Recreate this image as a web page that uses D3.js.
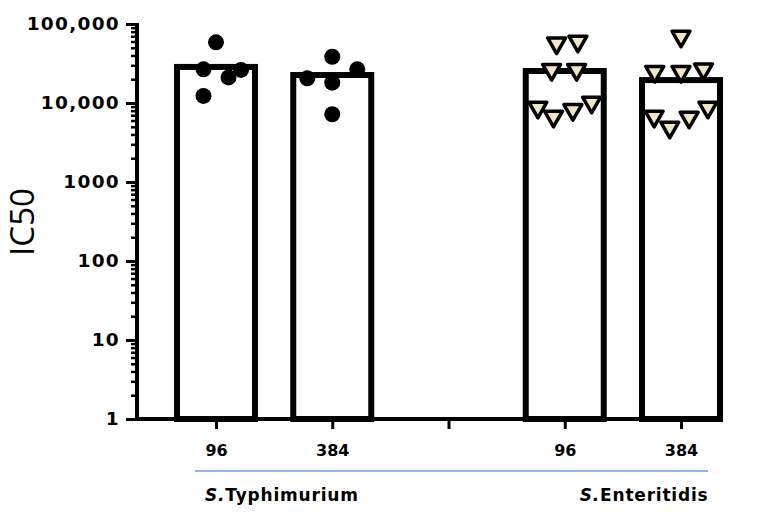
<!DOCTYPE html>
<html>
<head>
<meta charset="utf-8">
<script src="https://cdn.jsdelivr.net/npm/d3@7"></script>
<style>
  body { margin: 0; background: #fff; }
  svg { display: block; }
  .ylab { font-family: "DejaVu Sans", sans-serif; font-weight: bold; font-size: 18.5px; letter-spacing: 1.3px; }
  .xlab { font-family: "DejaVu Sans", sans-serif; font-weight: bold; font-size: 16px; }
  .grp { font-family: "DejaVu Sans", sans-serif; font-weight: bold; font-size: 17px; letter-spacing: 0.8px; }
</style>
</head>
<body>
<div id="chart"></div>
<script>
// categories along the x axis (index 2 is the empty gap tick)
const tickLabels = ["96", "384", "", "96", "384"];
const groupNames = ["Typhimurium", "Enteritidis"];

// bar heights (IC50, means)
const barValues = [28600, 22600, 25400, 19500];
const barSlots = [0, 1, 3, 4];

// individual replicates, jitter in half-symbol units
const typh96 = [58600, 26700, 21100, 26200, 12300];
const typh96Jit = [0, -1, 1, 2, -1];
const typh384 = [38500, 20500, 18100, 26700, 7200];
const typh384Jit = [0, -2, 0, 2, 0];
const ent96 = [53100, 55800, 24500, 24500, 8150, 6270, 7620, 9430];
const ent96Jit = [-0.65, 1.05, -1.05, 0.95, -2.15, -0.9, 0.65, 2.15];
const ent384 = [64600, 23100, 23100, 24900, 6270, 4550, 6090, 8150];
const ent384Jit = [0, -2.1, 0, 1.8, -2.15, -0.9, 0.65, 2.15];

const yTicks = [1, 10, 100, 1000, 10000, 100000];

const width = 776, height = 512;
const svg = d3.select('#chart').append('svg')
    .attr('width', width)
    .attr('height', height);

const xScale = d3.scaleLinear().domain([0, 4]).range([216, 681]);
const yScale = d3.scaleLog().domain([1, 100000]).range([419, 24]);
const jitStep = 12.5;
const barW = 78;

// bars
svg.append('g')
    .selectAll('rect')
    .data(barValues)
    .join('rect')
    .attr('x', (d, i) => xScale(barSlots[i]) - barW / 2)
    .attr('y', d => yScale(d))
    .attr('width', barW)
    .attr('height', d => yScale(1) - yScale(d))
    .attr('fill', '#fff')
    .attr('stroke', '#000')
    .attr('stroke-width', 6);

// y axis: minor ticks then major ticks
const minor = [];
for (let e = 0; e < 5; e++) {
    for (let m = 2; m <= 9; m++) minor.push(m * Math.pow(10, e));
}
const yAxisX = 137;
svg.append('g')
    .attr('transform', `translate(${yAxisX},0)`)
    .call(d3.axisLeft(yScale).tickValues(minor).tickSize(6).tickFormat(''))
    .call(g => g.select('.domain').remove())
    .call(g => g.selectAll('line').attr('stroke-width', 2.5));

const fmt = d => d >= 10000 ? d3.format(',')(d) : String(d);
svg.append('g')
    .attr('transform', `translate(${yAxisX},0)`)
    .call(d3.axisLeft(yScale).tickValues(yTicks).tickSize(11).tickPadding(6).tickFormat(fmt))
    .call(g => g.select('.domain').remove())
    .call(g => g.selectAll('line').attr('stroke-width', 3))
    .call(g => g.selectAll('text').attr('class', 'ylab').attr('fill', '#000'));

svg.append('line')
    .attr('x1', yAxisX).attr('x2', yAxisX)
    .attr('y1', yScale(100000) - 1).attr('y2', yScale(1) + 2)
    .attr('stroke', '#000').attr('stroke-width', 4);

// x axis
svg.append('g')
    .attr('transform', `translate(0,${yScale(1)})`)
    .call(d3.axisBottom(xScale).tickValues([0, 1, 2, 3, 4]).tickSize(10).tickPadding(16)
        .tickFormat((d, i) => tickLabels[i]))
    .call(g => g.select('.domain').remove())
    .call(g => g.selectAll('line').attr('stroke-width', 3))
    .call(g => g.selectAll('text').attr('class', 'xlab').attr('fill', '#000'));

svg.append('line')
    .attr('x1', yAxisX - 2).attr('x2', xScale(4) + barW / 2 + 3)
    .attr('y1', yScale(1)).attr('y2', yScale(1))
    .attr('stroke', '#000').attr('stroke-width', 4);

// y title
svg.append('text')
    .attr('transform', `translate(21,222) rotate(-90)`)
    .attr('text-anchor', 'middle')
    .attr('dominant-baseline', 'central')
    .style('font-family', '"Open Sans", sans-serif')
    .style('font-size', '33px')
    .text('IC50');

// circles
const circleSets = [[typh96, typh96Jit, 0], [typh384, typh384Jit, 1]];
circleSets.forEach(([vals, jit, slot]) => {
    svg.append('g')
        .selectAll('circle')
        .data(vals)
        .join('circle')
        .attr('cx', (d, i) => xScale(slot) + jit[i] * jitStep)
        .attr('cy', d => yScale(d))
        .attr('r', 8)
        .attr('fill', '#000');
});

// down-pointing triangle centred on its bounding box
const triDown = {
    draw(context, size) {
        const s = Math.sqrt(size * 4 / Math.sqrt(3));
        const h = s * Math.sqrt(3) / 2;
        context.moveTo(-s / 2, -h / 2);
        context.lineTo(s / 2, -h / 2);
        context.lineTo(0, h / 2);
        context.closePath();
    }
};
const tri = d3.symbol().type(triDown).size(140);
const triSets = [[ent96, ent96Jit, 3], [ent384, ent384Jit, 4]];
triSets.forEach(([vals, jit, slot]) => {
    svg.append('g')
        .selectAll('path')
        .data(vals)
        .join('path')
        .attr('d', tri)
        .attr('transform', (d, i) => `translate(${xScale(slot) + jit[i] * jitStep},${yScale(d)})`)
        .attr('fill', '#efe6c6')
        .attr('stroke', '#000')
        .attr('stroke-width', 3.5)
        .attr('stroke-linejoin', 'round');
});

// group underline and labels
svg.append('line')
    .attr('x1', 195).attr('x2', 708)
    .attr('y1', 471).attr('y2', 471)
    .attr('stroke', '#6d9fe3').attr('stroke-width', 1.5);

const groupX = [xScale(0) - 11, xScale(3) + 15];
groupNames.forEach((name, i) => {
    const t = svg.append('text')
        .attr('class', 'grp')
        .attr('x', groupX[i])
        .attr('y', 501);
    t.append('tspan').style('font-style', 'italic').text('S.');
    t.append('tspan').text(name);
});
</script>
</body>
</html>
